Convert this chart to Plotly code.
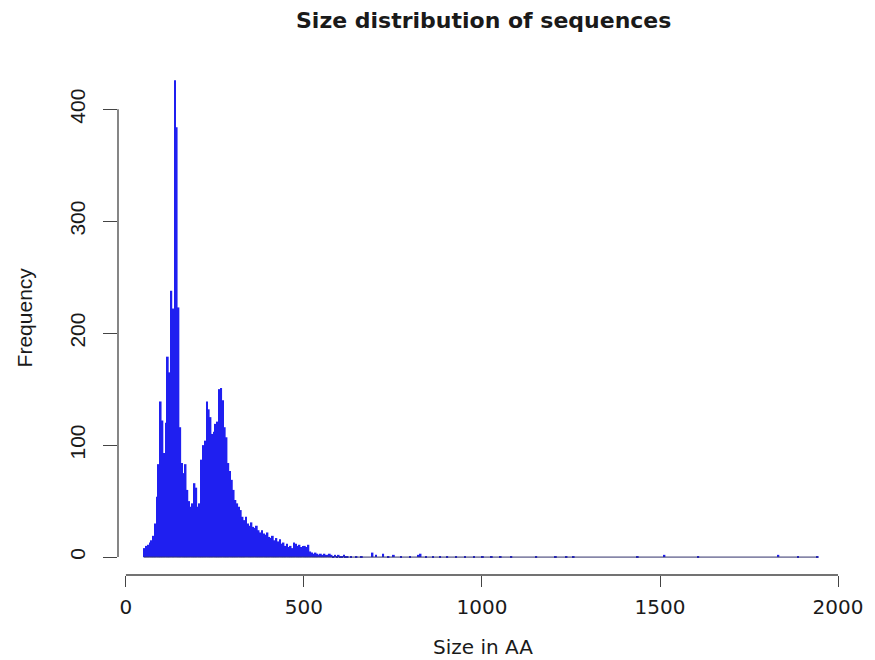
import plotly.graph_objects as go

# ---- data (bin width 5 AA) ----
bin_width = 5
dense_first_start = 50
dense_counts = [
    8, 10, 11, 13, 15, 19, 30, 54, 83, 139,      # 50-95
    122, 93, 120, 179, 165, 238, 222, 426, 384, 223,  # 100-145
    116, 84, 75, 83, 60, 50, 45, 48, 66, 62,     # 150-195
    45, 48, 87, 100, 104, 139, 132, 125, 110, 112,  # 200-245
    119, 121, 150, 151, 140, 116, 107, 84, 77, 69,  # 250-295
    60, 51, 48, 45, 42, 36, 33, 36, 30, 28,      # 300-345
    31, 27, 26, 28, 24, 22, 24, 21, 20, 22,      # 350-395
    18, 17, 19, 15, 17, 14, 16, 12, 13, 10,      # 400-445
    12, 9, 10, 8, 13, 12, 10, 11, 9, 10,         # 450-495
    10, 9, 11, 5, 4, 3, 4, 3, 2, 3,              # 500-545
    2, 3, 2, 2, 3, 2, 1, 2, 1, 2,                # 550-595
    1, 1, 2, 1, 1,                               # 600-620
]
tail_starts = [630, 645, 660, 690, 700, 720, 735, 750, 770, 795, 820, 825,
               840, 860, 880, 900, 925, 950, 975, 1000, 1025, 1050, 1080,
               1150, 1205, 1235, 1255, 1435, 1510, 1605, 1830, 1885, 1940]
tail_counts = [1, 1, 1, 4, 2, 3, 1, 2, 1, 1, 2, 3,
               1, 1, 1, 1, 1, 1, 1, 1, 1, 1, 1,
               1, 1, 1, 1, 1, 2, 1, 2, 1, 1]

x_ticks = [0, 500, 1000, 1500, 2000]
y_ticks = [0, 100, 200, 300, 400]

title_text = "Size distribution of sequences"
x_title = "Size in AA"
y_title = "Frequency"

dense_starts = [dense_first_start + i * bin_width for i in range(len(dense_counts))]
starts = dense_starts + tail_starts
counts = dense_counts + tail_counts

bar_fill = "#1f1ff0"
axis_col = "#444444"
text_col = "#1a1a1a"

fig = go.Figure()
fig.add_trace(go.Bar(
    x=starts, y=counts, width=bin_width, offset=0,
    marker=dict(color=bar_fill, line=dict(width=0)),
    hoverinfo="x+y", showlegend=False,
))
# baseline drawn by R for empty bins
fig.add_trace(go.Scatter(
    x=[min(starts), max(starts) + bin_width], y=[0, 0], mode="lines",
    line=dict(color="#30306a", width=1), hoverinfo="skip", showlegend=False,
))

# page body has an 8px margin -> figure starts at (8, 8)
fig.update_layout(
    width=867, height=652,
    margin=dict(l=110, r=20, t=52, b=85),
    paper_bgcolor="white", plot_bgcolor="white",
    showlegend=False,
    xaxis=dict(
        range=[-22.3, 2028], tickmode="array", tickvals=x_ticks,
        ticktext=[str(v) for v in x_ticks],
        ticks="outside", ticklen=11, tickwidth=1, tickcolor=axis_col,
        showline=False, showgrid=False, zeroline=False,
        tickfont=dict(family="DejaVu Sans", size=20, color=text_col),
        ticklabelstandoff=3,
    ),
    yaxis=dict(
        range=[-16, 444], tickmode="array", tickvals=y_ticks,
        ticktext=[str(v) for v in y_ticks],
        ticks="outside", ticklen=14, tickwidth=1, tickcolor=axis_col,
        tickangle=-90,
        showline=False, showgrid=False, zeroline=False,
        tickfont=dict(family="Liberation Sans", size=21, color=text_col),
        ticklabelstandoff=10,
    ),
    shapes=[
        dict(type="line", xref="x", yref="paper", x0=x_ticks[0], x1=x_ticks[-1],
             y0=0, y1=0, line=dict(color=axis_col, width=1.3)),
        dict(type="line", xref="paper", yref="y", x0=0, x1=0,
             y0=y_ticks[0], y1=y_ticks[-1], line=dict(color=axis_col, width=1.3)),
    ],
    annotations=[
        dict(text="<b>%s</b>" % title_text, xref="paper", yref="paper",
             x=0.5, y=1 + 40 / 515, xanchor="center", yanchor="middle",
             showarrow=False, font=dict(family="DejaVu Sans", size=22, color=text_col)),
        dict(text=x_title, xref="paper", yref="paper",
             x=0.5, y=-72 / 515, xanchor="center", yanchor="middle",
             showarrow=False, font=dict(family="DejaVu Sans", size=20, color=text_col)),
        dict(text=y_title, xref="paper", yref="paper",
             x=-94 / 737, y=0.5, xanchor="center", yanchor="middle", textangle=-90,
             showarrow=False, font=dict(family="Liberation Sans", size=21, color=text_col)),
    ],
)

fig.write_html("out.html")
